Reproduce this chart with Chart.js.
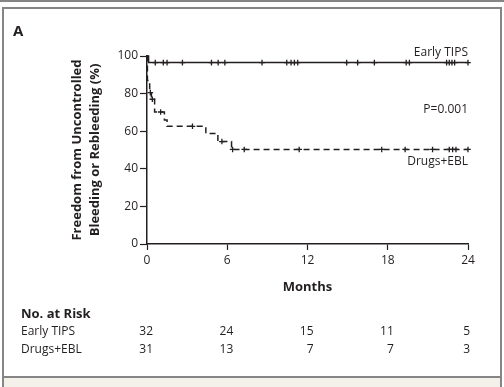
<!DOCTYPE html>
<html>
<head>
<meta charset="utf-8">
<script src="https://cdn.jsdelivr.net/npm/chart.js@4.4.0/dist/chart.umd.min.js"></script>
<style>
  html, body { margin: 0; padding: 0; background: #fff; }
  #wrap { position: relative; width: 504px; height: 387px; overflow: hidden; }
  .f { position: absolute; background: #858585; }
  #chart { position: absolute; left: 0; top: 0; }
</style>
</head>
<body>
<div id="wrap">
  <div class="f" style="left:0;top:0;width:504px;height:2px;"></div>
  <div class="f" style="left:2px;top:7px;width:500px;height:2px;"></div>
  <div class="f" style="left:2px;top:7px;width:2px;height:380px;"></div>
  <div class="f" style="left:500px;top:7px;width:2px;height:380px;"></div>
  <div class="f" style="left:2px;top:376px;width:500px;height:2px;"></div>
  <div style="position:absolute;left:4px;top:378px;width:496px;height:9px;background:#f4f1eb;"></div>
  <canvas id="chart" width="504" height="387"></canvas>
</div>
<script>
// Kaplan-Meier steps (months, % free of bleeding)
const tipsTimes = [0, 0.12, 24];
const tipsSurv = [100, 96.5, 96.5];
const tipsCensor = [0.62, 1.22, 1.5, 2.65, 4.82, 5.32, 5.82, 8.6, 10.45, 10.77, 11.02, 11.27,
  14.93, 15.75, 17.0, 19.38, 19.62, 22.4, 22.6, 22.8, 23.0, 24];

const drugsTimes = [0, 0.03, 0.2, 0.33, 0.57, 1.3, 1.5, 4.4, 5.3, 6.32, 24];
const drugsSurv = [100, 87, 80.5, 77, 70.2, 66, 62.6, 58.8, 54.5, 50.3, 50.3];
const drugsCensor = [0.25, 0.4, 1.02, 3.4, 5.6, 6.4, 7.27, 11.38, 17.55, 19.3, 21.35,
  22.6, 22.85, 23.1, 24];

const xTicks = [0, 6, 12, 18, 24];
const riskGroups = ['Early TIPS', 'Drugs+EBL'];
const riskTips = [32, 24, 15, 11, 5];
const riskDrugs = [31, 13, 7, 7, 3];

const ink = '#231f20';
const fontFam = '"Open Sans", sans-serif';

function levelAt(times, surv, t) {
  let v = surv[0];
  for (let i = 0; i < times.length; i++) {
    if (times[i] <= t) v = surv[i];
  }
  return v;
}

function curve(times, surv) {
  return times.map(function (t, i) { return { x: t, y: surv[i] }; });
}

function marks(times, surv, cens) {
  return cens.map(function (t) { return { x: t, y: levelAt(times, surv, t) }; });
}

const annotations = {
  id: 'annotations',
  afterDraw: function (chart) {
    const c = chart.ctx;
    const area = chart.chartArea;
    const xs = chart.scales.x;
    c.save();
    c.fillStyle = ink;
    c.textBaseline = 'middle';

    c.font = 'bold 15px ' + fontFam;
    c.textAlign = 'left';
    c.fillText('A', 13, 32);

    c.font = '12px ' + fontFam;
    c.textAlign = 'right';
    c.fillText('Early TIPS', area.right, 53);
    c.fillText('P=0.001', area.right, 110);
    c.fillText('Drugs+EBL', area.right, 162);

    // number at risk table
    c.textAlign = 'left';
    c.font = 'bold 13px ' + fontFam;
    c.fillText('No. at Risk', 21, 314);
    c.font = '12px ' + fontFam;
    c.fillText(riskGroups[0], 21, 332);
    c.fillText(riskGroups[1], 21, 350);
    c.textAlign = 'right';
    xTicks.forEach(function (t, i) {
      const px = Math.min(xs.getPixelForValue(t) + 6, area.right + 2);
      c.fillText(String(riskTips[i]), px, 332);
      c.fillText(String(riskDrugs[i]), px, 350);
    });
    c.restore();
  }
};

new Chart(document.getElementById('chart'), {
  type: 'line',
  data: {
    datasets: [
      {
        data: curve(tipsTimes, tipsSurv),
        borderColor: ink, borderWidth: 1.5, stepped: true,
        pointRadius: 0, fill: false
      },
      {
        data: curve(drugsTimes, drugsSurv),
        borderColor: ink, borderWidth: 1.5, stepped: true, borderDash: [6, 4],
        pointRadius: 0, fill: false
      },
      {
        data: marks(tipsTimes, tipsSurv, tipsCensor),
        showLine: false, pointStyle: 'cross', pointRadius: 2.8,
        pointBorderWidth: 1.3, pointBorderColor: ink
      },
      {
        data: marks(drugsTimes, drugsSurv, drugsCensor),
        showLine: false, pointStyle: 'cross', pointRadius: 2.8,
        pointBorderWidth: 1.3, pointBorderColor: ink
      }
    ]
  },
  options: {
    responsive: false,
    animation: false,
    clip: false,
    layout: { padding: { left: 0, top: 56, right: 36, bottom: 0 } },
    plugins: { legend: { display: false }, tooltip: { enabled: false } },
    scales: {
      x: {
        type: 'linear', min: 0, max: 24,
        afterFit: function (axis) { axis.height = 143; },
        afterBuildTicks: function (axis) { axis.ticks = xTicks.map(function (v) { return { value: v }; }); },
        grid: { display: true, drawOnChartArea: false, tickLength: 6, tickColor: ink, tickWidth: 1.2 },
        border: { color: ink, width: 1.5 },
        ticks: { color: ink, font: { family: fontFam, size: 12 }, padding: 3, maxRotation: 0 },
        title: {
          display: true, text: 'Months', color: ink,
          font: { family: fontFam, size: 13, weight: 'bold' },
          padding: { top: 0, bottom: 92 }
        }
      },
      y: {
        min: 0, max: 100,
        afterFit: function (axis) { axis.width = 147; },
        grid: { display: true, drawOnChartArea: false, tickLength: 7, tickColor: ink, tickWidth: 1.2 },
        border: { color: ink, width: 1.5 },
        ticks: { stepSize: 20, color: ink, font: { family: fontFam, size: 12 }, padding: 2 },
        title: {
          display: true, text: ['Freedom from Uncontrolled', 'Bleeding or Rebleeding (%)'],
          color: ink, font: { family: fontFam, size: 13, weight: 'bold', lineHeight: 1.38 },
          padding: { top: 68, bottom: 0 }
        }
      }
    }
  },
  plugins: [annotations]
});
</script>
</body>
</html>
